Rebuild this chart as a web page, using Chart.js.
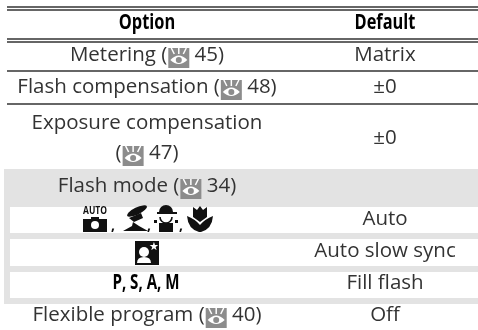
<!DOCTYPE html>
<html>
<head>
<meta charset="utf-8">
<style>
  html, body { margin: 0; padding: 0; background: #fff; overflow: hidden; }
  canvas { display: block; }
</style>
<script src="https://cdn.jsdelivr.net/npm/chart.js@4"></script>
</head>
<body>
<canvas id="tableChart" width="478" height="330"></canvas>
<script>
// table contents, "@" stands for the page reference icon
const headers = ['Option', 'Default'];
const optionCells = [
  ['Metering (@ 45)'],
  ['Flash compensation (@ 48)'],
  ['Exposure compensation', '(@ 47)'],
  ['Flash mode (@ 34)'],
  ['#scene'],
  ['#slow'],
  ['P, S, A, M'],
  ['Flexible program (@ 40)']
];
const defaultCells = ['Matrix', '±0', '±0', '', 'Auto', 'Auto slow sync', 'Fill flash', 'Off'];

// axis units are the table's own layout grid
const rowCenters = [55, 87, 138, 186, 219, 251, 283, 315];
const ruleRows = [7, 10, 39, 42, 71, 104];
const whiteRows = [[207, 233], [239, 266], [272, 298]];
const bandRow = [169, 304];
const columnCenters = [147, 385];
const bodyFont = '20.5px "Open Sans"';
const headFont = 'bold 21px "Open Sans"';

const datasets = [];
function addBand(x0, x1, y0, y1, color, order) {
  datasets.push({
    data: [{ x: x0, y: y0 }, { x: x1, y: y0 }],
    showLine: true,
    pointRadius: 0,
    borderWidth: 0,
    borderColor: color,
    backgroundColor: color,
    order: order,
    fill: { value: y1 }
  });
}
addBand(4, 478, bandRow[0], bandRow[1], '#e3e3e3', 3);
whiteRows.forEach(r => addBand(10, 478, r[0], r[1], '#ffffff', 2));
ruleRows.forEach(y => {
  datasets.push({
    data: [{ x: 7, y: y }, { x: 478, y: y }],
    showLine: true,
    pointRadius: 0,
    borderWidth: 2,
    borderColor: '#666666',
    order: 1
  });
});

function drawEye(ctx, x, y) {
  ctx.save();
  ctx.fillStyle = '#8c8c8c';
  ctx.fillRect(x, y - 7, 21, 20);
  ctx.strokeStyle = '#fff';
  ctx.fillStyle = '#fff';
  ctx.lineWidth = 1.5;
  ctx.beginPath();
  ctx.moveTo(x + 2, y + 5);
  ctx.quadraticCurveTo(x + 10.5, y - 4, x + 19, y + 5);
  ctx.quadraticCurveTo(x + 10.5, y + 13, x + 2, y + 5);
  ctx.fill();
  ctx.fillStyle = '#8c8c8c';
  ctx.beginPath();
  ctx.arc(x + 10.5, y + 5, 3, 0, Math.PI * 2);
  ctx.fill();
  [[3, -7, 6, -1], [10.5, -7, 10.5, -1], [18, -7, 15, -1]].forEach(l => {
    ctx.beginPath();
    ctx.moveTo(x + l[0], y + l[1]);
    ctx.lineTo(x + l[2], y + l[3]);
    ctx.stroke();
  });
  ctx.restore();
}

function drawMixed(ctx, text, cx, cy) {
  const parts = text.split('@');
  const gap = 22;
  if (parts.length === 1) {
    ctx.textAlign = 'center';
    ctx.fillText(text, cx, cy);
    return;
  }
  const w0 = ctx.measureText(parts[0]).width;
  const w1 = ctx.measureText(parts[1]).width;
  let x = cx - (w0 + gap + w1) / 2;
  ctx.textAlign = 'left';
  ctx.fillText(parts[0], x, cy);
  x += w0;
  drawEye(ctx, x + 1, cy);
  ctx.fillText(parts[1], x + gap, cy);
}

// Myriad Condensed look: bold face squeezed sideways
function drawNarrow(ctx, text, cx, cy, squeeze) {
  ctx.save();
  ctx.translate(cx, cy);
  ctx.scale(squeeze, 1);
  ctx.textAlign = 'center';
  ctx.fillText(text, 0, 0);
  ctx.restore();
}

function drawScene(ctx, cx, cy) {
  ctx.save();
  ctx.fillStyle = '#111';
  // auto camera
  ctx.font = 'bold 10px "Open Sans"';
  drawNarrow(ctx, 'AUTO', cx - 52, cy - 8, 0.85);
  ctx.fillRect(cx - 64, cy, 24, 13);
  ctx.fillRect(cx - 56, cy - 2, 8, 3);
  ctx.fillStyle = '#fff';
  ctx.beginPath();
  ctx.arc(cx - 52, cy + 6, 4, 0, Math.PI * 2);
  ctx.fill();
  ctx.fillStyle = '#111';
  // portrait, hat and shoulders
  ctx.beginPath();
  ctx.ellipse(cx - 10, cy - 8, 11, 3.5, -0.45, 0, Math.PI * 2);
  ctx.fill();
  ctx.beginPath();
  ctx.moveTo(cx - 6, cy - 6);
  ctx.lineTo(cx - 18, cy - 1);
  ctx.lineTo(cx - 13, cy + 3);
  ctx.lineTo(cx - 4, cy - 1);
  ctx.closePath();
  ctx.fill();
  ctx.beginPath();
  ctx.moveTo(cx - 14, cy + 3);
  ctx.lineTo(cx - 8, cy + 7);
  ctx.lineTo(cx + 1, cy + 12);
  ctx.lineTo(cx - 24, cy + 12);
  ctx.lineTo(cx - 15, cy + 7);
  ctx.closePath();
  ctx.fill();
  // child with cap
  ctx.beginPath();
  ctx.arc(cx + 19, cy - 7, 7, Math.PI, 0);
  ctx.fill();
  ctx.fillRect(cx + 10, cy - 7, 20, 2);
  ctx.lineWidth = 1.6;
  ctx.strokeStyle = '#111';
  ctx.beginPath();
  ctx.arc(cx + 19, cy - 2, 6, 0, Math.PI);
  ctx.stroke();
  ctx.fillRect(cx + 12, cy + 4, 14, 9);
  ctx.fillRect(cx + 7, cy + 1, 3, 3);
  ctx.fillRect(cx + 28, cy + 1, 3, 3);
  // tulip
  ctx.beginPath();
  ctx.moveTo(cx + 46, cy - 2);
  ctx.lineTo(cx + 46, cy - 12);
  ctx.lineTo(cx + 50, cy - 9);
  ctx.lineTo(cx + 53, cy - 13);
  ctx.lineTo(cx + 56, cy - 9);
  ctx.lineTo(cx + 60, cy - 12);
  ctx.lineTo(cx + 60, cy - 2);
  ctx.lineTo(cx + 53, cy + 3);
  ctx.closePath();
  ctx.fill();
  ctx.beginPath();
  ctx.moveTo(cx + 40, cy - 3);
  ctx.quadraticCurveTo(cx + 41, cy + 10, cx + 52, cy + 13);
  ctx.lineTo(cx + 54, cy + 13);
  ctx.quadraticCurveTo(cx + 65, cy + 10, cx + 66, cy - 3);
  ctx.quadraticCurveTo(cx + 58, cy, cx + 53, cy + 6);
  ctx.quadraticCurveTo(cx + 48, cy, cx + 40, cy - 3);
  ctx.fill();
  // commas
  ctx.font = 'bold 14px "Open Sans"';
  ctx.textAlign = 'center';
  ctx.fillText(',', cx - 34, cy + 7);
  ctx.fillText(',', cx + 2, cy + 7);
  ctx.fillText(',', cx + 34, cy + 7);
  ctx.restore();
}

function drawSlow(ctx, cx, cy) {
  ctx.save();
  ctx.fillStyle = '#111';
  ctx.fillRect(cx - 12, cy - 10, 24, 24);
  ctx.fillStyle = '#fff';
  ctx.beginPath();
  ctx.arc(cx - 3, cy + 1, 5, 0, Math.PI * 2);
  ctx.fill();
  ctx.beginPath();
  ctx.moveTo(cx - 10, cy + 12);
  ctx.quadraticCurveTo(cx - 10, cy + 6, cx - 3, cy + 6);
  ctx.quadraticCurveTo(cx + 4, cy + 6, cx + 4, cy + 12);
  ctx.closePath();
  ctx.fill();
  ctx.font = '11px "DejaVu Sans"';
  ctx.textAlign = 'center';
  ctx.fillText('★', cx + 7, cy - 4);
  ctx.restore();
}

const tableTextPlugin = {
  id: 'tableText',
  afterDatasetsDraw(chart) {
    const { ctx, scales: { x, y } } = chart;
    ctx.save();
    ctx.textBaseline = 'middle';

    ctx.font = headFont;
    ctx.fillStyle = '#000';
    headers.forEach((h, i) => {
      drawNarrow(ctx, h, x.getPixelForValue(columnCenters[i]), y.getPixelForValue(23), 0.78);
    });

    ctx.font = bodyFont;
    ctx.fillStyle = '#333';
    optionCells.forEach((lines, i) => {
      const cx = x.getPixelForValue(columnCenters[0]);
      const cy = y.getPixelForValue(rowCenters[i]);
      if (lines[0] === '#scene') { drawScene(ctx, cx, cy); return; }
      if (lines[0] === '#slow') { drawSlow(ctx, cx, cy); return; }
      if (lines[0] === 'P, S, A, M') {
        ctx.save();
        ctx.font = 'bold 21px "Open Sans"';
        ctx.fillStyle = '#000';
        drawNarrow(ctx, lines[0], cx - 1, cy, 0.72);
        ctx.restore();
        return;
      }
      lines.forEach((line, k) => {
        const off = (k - (lines.length - 1) / 2) * 30;
        drawMixed(ctx, line, cx, cy + off);
      });
    });
    defaultCells.forEach((text, i) => {
      ctx.textAlign = 'center';
      ctx.fillText(text, x.getPixelForValue(columnCenters[1]), y.getPixelForValue(rowCenters[i]));
    });
    ctx.restore();
  }
};

new Chart(document.getElementById('tableChart').getContext('2d'), {
  type: 'scatter',
  data: { datasets: datasets },
  plugins: [tableTextPlugin],
  options: {
    responsive: false,
    animation: false,
    layout: { padding: 0 },
    scales: {
      x: { type: 'linear', min: 0, max: 478, display: false },
      y: { type: 'linear', min: 0, max: 330, reverse: true, display: false }
    },
    plugins: {
      legend: { display: false },
      tooltip: { enabled: false }
    }
  }
});
</script>
</body>
</html>
